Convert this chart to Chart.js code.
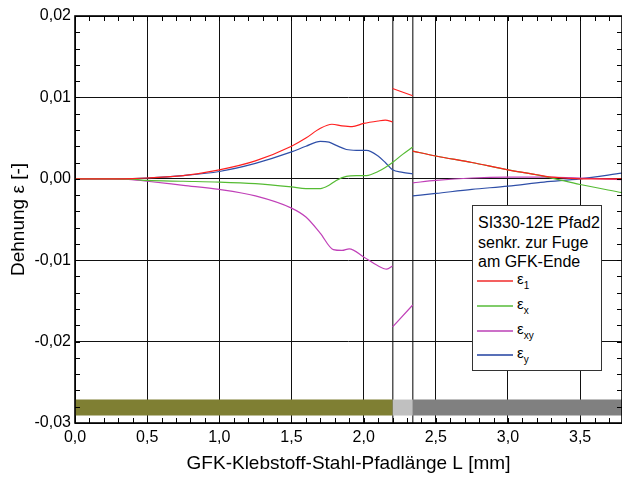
<!DOCTYPE html>
<html>
<head>
<meta charset="utf-8">
<script src="https://cdn.jsdelivr.net/npm/chart.js@4.4.1/dist/chart.umd.min.js"></script>
<style>
  html, body { margin: 0; padding: 0; background: #fff; }
  #wrap { position: relative; width: 622px; height: 477px; overflow: hidden; }
  #legend {
    position: absolute; left: 472px; top: 205px; width: 130px; height: 166px;
    border: 1px solid #333; background: #fff; box-sizing: border-box;
    font-family: "Liberation Sans", Arial, sans-serif; color: #000;
  }
  #legend .t { font-size: 16px; line-height: 19.5px; padding-left: 5px; white-space: nowrap; }
  #legend .title { padding-top: 7px; }
  #legend .e { position: absolute; left: 44px; height: 18px; font-size: 15px; line-height: 18px; white-space: nowrap; }
  #legend .s { position: absolute; left: 4px; width: 36px; height: 2px; }
  #legend .e sub { font-size: 10px; vertical-align: -5px; }
</style>
</head>
<body>
<div id="wrap">
  <canvas id="c" width="622" height="477"></canvas>
  <div id="legend">
    <div class="t title">SI330-12E Pfad2</div>
    <div class="t">senkr. zur Fuge</div>
    <div class="t">am GFK-Ende</div>
    <div class="s" style="top:74px;background:#f46060"></div><div class="e" style="top:64px">ε<sub>1</sub></div>
    <div class="s" style="top:99px;background:#80cc6a"></div><div class="e" style="top:89px">ε<sub>x</sub></div>
    <div class="s" style="top:124px;background:#cc70c8"></div><div class="e" style="top:114px">ε<sub>xy</sub></div>
    <div class="s" style="top:148px;background:#5870b8"></div><div class="e" style="top:138px">ε<sub>y</sub></div>
  </div>
</div>
<script>
// ---- data ----
// segment 1: GFK side (0 .. 2.2 for eps1 / eps_xy, 0 .. 2.34 for eps_x / eps_y)
const xRed1 = [0, 0.25, 0.4, 0.5, 0.75, 1.0, 1.25, 1.5, 1.6, 1.7, 1.78, 1.85, 1.92, 2.0, 2.1, 2.15, 2.2];
const e1Seg1 = [0, 0, 0.00003, 0.0001, 0.0004, 0.0011, 0.0022, 0.0040, 0.0050, 0.0062, 0.0067, 0.0065, 0.0064, 0.0068, 0.0071, 0.0072, 0.0070];
const xMag1 = [0, 0.25, 0.35, 0.5, 0.75, 1.0, 1.25, 1.5, 1.6, 1.7, 1.79, 1.85, 1.9, 2.0, 2.09, 2.16, 2.2];
const exySeg1 = [0, 0, -0.00003, -0.0003, -0.0008, -0.0013, -0.0021, -0.0036, -0.0047, -0.0067, -0.0087, -0.0088, -0.0086, -0.0096, -0.0106, -0.0111, -0.0107];
const xBG1 = [0, 0.25, 0.4, 0.5, 0.75, 1.0, 1.25, 1.5, 1.6, 1.7, 1.76, 1.81, 1.88, 1.95, 2.02, 2.1, 2.15, 2.2, 2.27, 2.34];
const eySeg1 = [0, 0, 0.00003, 0.0001, 0.0004, 0.0009, 0.0019, 0.0033, 0.0040, 0.0046, 0.0045, 0.0041, 0.0036, 0.0035, 0.0035, 0.0028, 0.0020, 0.0011, 0.0008, 0.0006];
const exSeg1 = [0, 0, -0.00005, -0.0002, -0.0003, -0.0004, -0.0006, -0.0010, -0.0012, -0.0012, -0.0008, -0.0002, 0.0003, 0.0004, 0.0004, 0.0009, 0.0014, 0.0020, 0.0030, 0.0039];
// segment 2: adhesive (2.2 .. 2.34)
const x2 = [2.2, 2.34];
const e1Seg2 = [0.0111, 0.0102];
const exySeg2 = [-0.0182, -0.0155];
// segment 3: steel (2.34 .. 3.79)
const xRed3 = [2.34, 2.5, 2.75, 3.0, 3.2, 3.3, 3.4, 3.5, 3.79];
const e1Seg3 = [0.0034, 0.0028, 0.0020, 0.0011, 0.0005, 0.0002, 0.0001, 0.0000, 0.0000];
const x3 = [2.34, 2.5, 2.75, 3.0, 3.25, 3.5, 3.79];
const exSeg3 = [0.0034, 0.0028, 0.0020, 0.0011, 0.0003, -0.0007, -0.0017];
const eySeg3 = [-0.0021, -0.0018, -0.0013, -0.0009, -0.0004, 0.0000, 0.0007];
const exySeg3 = [-0.0005, -0.0002, 0.0001, 0.0002, 0.0002, 0.0001, -0.0001];
// material bands along the path
const bandEdges = [0, 2.2, 2.34, 3.79];
const bandLevel = -0.0281;
const bandColors = ['#7f7f33', '#c0c0c0', '#808080'];
// axis ticks
const xMin = 0, xMax = 3.79, xStep = 0.5;
const yMin = -0.03, yMax = 0.02, yStep = 0.01;
const interfaces = [2.2, 2.34];

function pts(xs, ys) { return xs.map((x, i) => ({ x: x, y: ys[i] })); }
function gap(x) { return { x: x, y: null }; }

const red = [...pts(xRed1, e1Seg1), gap(2.2), ...pts(x2, e1Seg2), gap(2.34), ...pts(xRed3, e1Seg3)];
const green = [...pts(xBG1, exSeg1), gap(2.34), ...pts(x3, exSeg3)];
const magenta = [...pts(xMag1, exySeg1), gap(2.2), ...pts(x2, exySeg2), gap(2.34), ...pts(x3, exySeg3)];
const blue = [...pts(xBG1, eySeg1), gap(2.34), ...pts(x3, eySeg3)];

function curve(data, color) {
  return { data, borderColor: color, borderWidth: 1.2, pointRadius: 0, fill: false,
           cubicInterpolationMode: 'monotone', spanGaps: false };
}
const bands = bandColors.map((c, i) => ({
  data: [{ x: bandEdges[i], y: bandLevel }, { x: bandEdges[i + 1], y: bandLevel }],
  borderColor: c, borderWidth: 16, borderCapStyle: 'butt', pointRadius: 0, fill: false
}));

const comma = (v, d) => { const s = (Math.round(v / Math.pow(10, -d)) * Math.pow(10, -d)).toFixed(d); return s.replace('.', ','); };
const isIface = v => interfaces.some(t => Math.abs(t - v) < 1e-9);

const frame = {
  id: 'frame',
  afterDraw(chart) {
    const { ctx, chartArea: a, scales: { x, y } } = chart;
    ctx.save();
    ctx.strokeStyle = '#000';
    ctx.lineWidth = 1;
    ctx.beginPath();
    for (let v = -0.03; v <= 0.02 + 1e-9; v += 0.002) {
      const py = Math.round(y.getPixelForValue(v)) + 0.5;
      ctx.moveTo(a.left, py); ctx.lineTo(a.left + 5, py);
      ctx.moveTo(a.right, py); ctx.lineTo(a.right - 5, py);
    }
    for (let v = 0; v <= xMax + 1e-9; v += 0.1) {
      const px = Math.round(x.getPixelForValue(v)) + 0.5;
      ctx.moveTo(px, a.bottom); ctx.lineTo(px, a.bottom - 5);
      ctx.moveTo(px, a.top); ctx.lineTo(px, a.top + 5);
    }
    ctx.stroke();
    ctx.lineWidth = 1.6;
    ctx.strokeRect(a.left, a.top, a.right - a.left, a.bottom - a.top);
    ctx.restore();
  }
};

new Chart(document.getElementById('c'), {
  type: 'line',
  data: { datasets: [curve(red, '#ff2020'), curve(green, '#55bb33'), curve(magenta, '#c040b8'), curve(blue, '#2f4fa8'), ...bands] },
  options: {
    responsive: false, animation: false, devicePixelRatio: 1,
    layout: { padding: { top: 16, right: 0, left: 0, bottom: 0 } },
    plugins: { legend: { display: false }, tooltip: { enabled: false } },
    scales: {
      x: {
        type: 'linear', min: xMin, max: xMax,
        afterFit: s => { s.height = 54; },
        afterBuildTicks: s => {
          interfaces.forEach(v => s.ticks.push({ value: v }));
          s.ticks.sort((a, b) => a.value - b.value);
        },
        ticks: { stepSize: xStep, includeBounds: false, autoSkip: false, maxRotation: 0, padding: 5,
                 color: '#000', font: { family: 'Liberation Sans, Arial, sans-serif', size: 16 },
                 callback: v => isIface(v) ? '' : comma(v, 1) },
        grid: { drawTicks: false, color: c => (c.tick && isIface(c.tick.value)) ? '#555' : '#111',
                lineWidth: c => (c.tick && isIface(c.tick.value)) ? 1.5 : 1 },
        border: { display: false },
        title: { display: true, text: 'GFK-Klebstoff-Stahl-Pfadlänge L [mm]', color: '#000',
                 font: { family: 'Liberation Sans, Arial, sans-serif', size: 19 }, padding: { top: 0, bottom: 2 } }
      },
      y: {
        type: 'linear', min: yMin, max: yMax,
        afterFit: s => { s.width = 75; },
        ticks: { stepSize: yStep, padding: 4, color: '#000',
                 font: { family: 'Liberation Sans, Arial, sans-serif', size: 16 },
                 callback: v => comma(v, 2) },
        grid: { drawTicks: false, color: '#111', lineWidth: 1 },
        border: { display: false },
        title: { display: true, text: 'Dehnung ε [-]', color: '#000',
                 font: { family: 'Liberation Sans, Arial, sans-serif', size: 19 }, padding: { top: 7, bottom: 0 } }
      }
    }
  },
  plugins: [frame]
});
</script>
</body>
</html>
